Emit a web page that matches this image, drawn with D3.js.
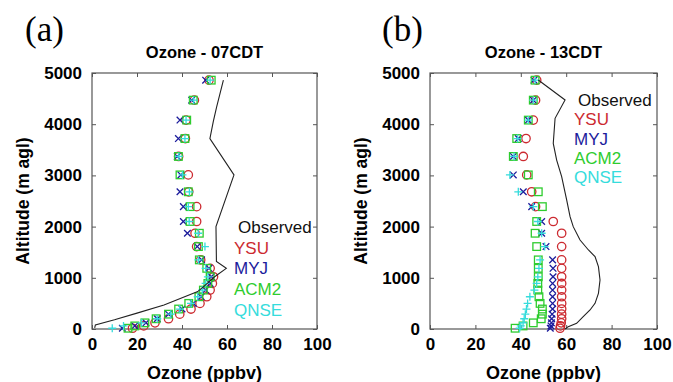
<!DOCTYPE html>
<html>
<head>
<meta charset="utf-8">
<script src="https://cdn.jsdelivr.net/npm/d3@7"></script>
<style>
body { margin: 0; background: #fff; }
text { font-family: "Liberation Sans", Arial, sans-serif; }
</style>
</head>
<body>
<div id="chart"></div>
<script>
// model levels (m agl) shared by both panels
var levels = [4860, 4470, 4080, 3720, 3370, 3010, 2680, 2390, 2100, 1870, 1610, 1350,
              1185, 1020, 890, 760, 630, 500, 390, 290, 200, 120, 60, 15];

// panel (a) 07CDT
var ysuA  = [52, 45.5, 41.8, 41.5, 38.5, 42.8, 43, 46.5, 46.5, 45.8, 46.5, 48.3, 52.5, 54, 53.5, 52.5, 51, 48, 44, 39, 34, 28, 23, 18];
var myjA  = [50.5, 44.3, 39.1, 38.4, 37.9, 39.5, 39.1, 40.6, 40.6, 42.4, 46.8, 48.7, 52, 53, 52.5, 50.5, 48.5, 45, 40, 34, 29, 24, 19, 13.5];
var acm2A = [53, 45, 42.1, 41.3, 38.4, 39.1, 42.8, 43.6, 43.6, 47.7, 47.3, 47.7, 51, 52.5, 51.5, 49.5, 47.5, 43, 38.5, 34, 28.5, 23.5, 19, 16];
var qnseA = [52.5, 45.2, 41.8, 41.3, 38.6, 40.2, 43.3, 42.8, 43.2, 47.2, 50.2, 47.3, 50.5, 51.5, 50.5, 49, 47, 44, 39, 35, 29, 22, 14, 9];
var obsAltA   = [20, 80, 180, 310, 470, 730, 900, 1020, 1185, 1320, 2000, 3010, 3720, 4050, 4340, 4860];
var obsOzoneA = [1.2, 1.5, 10, 20, 32, 47, 51.5, 54.5, 59.7, 55.3, 55.1, 63.1, 52.4, 53.9, 55.4, 58.4];

// panel (b) 13CDT
var ysuB  = [47, 46.5, 45.5, 42.3, 41.1, 42.6, 44.8, 46.5, 54.3, 58, 58, 58, 58, 58, 58, 58, 58, 58, 58, 58, 58, 57.8, 57.5, 57.3];
var myjB  = [45.8, 45.5, 43.3, 38.9, 36.7, 36.7, 41.1, 44.8, 49.2, 49.2, 51.1, 54, 54.2, 54.2, 54, 54, 54, 54, 54, 53.8, 53.6, 53.5, 53.3, 53];
var acm2B = [46.3, 45.5, 43.3, 38.2, 36.7, 43.3, 47.7, 49.5, 47, 46.3, 47, 47.7, 47.7, 47.7, 47.5, 47.5, 48, 48.5, 49.5, 49.5, 49, 45.5, 41, 37.5];
var qnseB = [46.3, 45.5, 43.3, 38.6, 37, 35.2, 38.9, 45.5, 47.5, 49.2, 50.5, 48.5, 48, 47.5, 47, 46, 44, 43, 42.5, 42, 41.5, 41, 40, 39.5];
var obsAltB   = [0, 46, 111, 241, 371, 501, 697, 957, 1217, 1413, 1543, 1738, 1999, 2194, 2520, 2975, 3300, 3626, 4115, 4473, 4863];
var obsOzoneB = [59.5, 60.9, 64.6, 67.5, 70.5, 72.7, 74.2, 74.9, 74.2, 72.7, 69.8, 66.1, 63.1, 61.7, 60.2, 58.0, 55.8, 54.3, 55.1, 59.5, 47.7];

var xTicks = [0, 20, 40, 60, 80, 100];
var yTicks = [0, 1000, 2000, 3000, 4000, 5000];
var legendNames = ["Observed", "YSU", "MYJ", "ACM2", "QNSE"];
var colors = {Observed: "#111", YSU: "#cc2a30", MYJ: "#1c1c9c", ACM2: "#2ecc2e", QNSE: "#36dcdc"};

var svg = d3.select("#chart").append("svg")
    .attr("width", 673)
    .attr("height", 382);

svg.append("rect").attr("width", 673).attr("height", 382).attr("fill", "#fff");

function drawPanel(p) {
    var x = d3.scaleLinear().domain([0, 100]).range([p.left, p.right]);
    var y = d3.scaleLinear().domain([0, 5000]).range([329, 73]);
    var g = svg.append("g");

    // panel letter
    g.append("text")
        .attr("x", p.letterX)
        .attr("y", 41)
        .style("font-family", "'Liberation Serif', 'Times New Roman', serif")
        .style("font-size", "35px")
        .text(p.letter);

    // title
    g.append("text")
        .attr("x", (p.left + p.right) / 2)
        .attr("y", 58)
        .attr("text-anchor", "middle")
        .style("font-size", "16.5px")
        .style("font-weight", "bold")
        .text(p.title);

    // axes with inward ticks, MATLAB style box
    g.append("g")
        .attr("transform", "translate(0,329)")
        .call(d3.axisBottom(x).tickValues(xTicks).tickSizeInner(-4).tickSizeOuter(0).tickPadding(9))
        .call(a => a.select(".domain").remove())
        .selectAll("text")
        .style("font-size", "17px").style("font-weight", "bold").attr("fill", "#000");
    g.append("g")
        .attr("transform", "translate(0,73)")
        .call(d3.axisTop(x).tickValues(xTicks).tickSizeInner(-4).tickSizeOuter(0).tickFormat(""))
        .call(a => a.select(".domain").remove());
    g.append("g")
        .attr("transform", "translate(" + p.left + ",0)")
        .call(d3.axisLeft(y).tickValues(yTicks).tickFormat(d3.format("d")).tickSizeInner(-4).tickSizeOuter(0).tickPadding(10))
        .call(a => a.select(".domain").remove())
        .selectAll("text")
        .style("font-size", "17px").style("font-weight", "bold").attr("fill", "#000");
    g.append("g")
        .attr("transform", "translate(" + p.right + ",0)")
        .call(d3.axisRight(y).tickValues(yTicks).tickSizeInner(-4).tickSizeOuter(0).tickFormat(""))
        .call(a => a.select(".domain").remove());
    g.selectAll(".tick line").attr("stroke", "#555");

    g.append("rect")
        .attr("x", p.left).attr("y", 73)
        .attr("width", p.right - p.left).attr("height", 256)
        .attr("fill", "none").attr("stroke", "#555").attr("stroke-width", 1.2);

    // axis labels
    g.append("text")
        .attr("x", (p.left + p.right) / 2)
        .attr("y", 379)
        .attr("text-anchor", "middle")
        .style("font-size", "18px").style("font-weight", "bold")
        .text("Ozone (ppbv)");
    g.append("text")
        .attr("transform", "translate(" + (p.left - 63) + ",201) rotate(-90)")
        .attr("text-anchor", "middle")
        .style("font-size", "17.5px").style("font-weight", "bold")
        .text("Altitude (m agl)");

    // YSU circles
    g.selectAll(".ysu").data(levels).enter().append("circle")
        .attr("cx", (d, i) => x(p.ysu[i]))
        .attr("cy", d => y(d))
        .attr("r", 4.2)
        .attr("fill", "none").attr("stroke", colors.YSU).attr("stroke-width", 1.3);

    // MYJ crosses
    var s = 3.3;
    g.selectAll(".myj").data(levels).enter().append("path")
        .attr("d", (d, i) => {
            var cx = x(p.myj[i]), cy = y(d);
            return "M" + (cx - s) + "," + (cy - s) + "L" + (cx + s) + "," + (cy + s) +
                   "M" + (cx - s) + "," + (cy + s) + "L" + (cx + s) + "," + (cy - s);
        })
        .attr("fill", "none").attr("stroke", colors.MYJ).attr("stroke-width", 1.3);

    // ACM2 squares
    g.selectAll(".acm2").data(levels).enter().append("rect")
        .attr("x", (d, i) => x(p.acm2[i]) - 3.8)
        .attr("y", d => y(d) - 3.8)
        .attr("width", 7.6).attr("height", 7.6)
        .attr("fill", "none").attr("stroke", colors.ACM2).attr("stroke-width", 1.3);

    // QNSE plus
    var q = 4;
    g.selectAll(".qnse").data(levels).enter().append("path")
        .attr("d", (d, i) => {
            var cx = x(p.qnse[i]), cy = y(d);
            return "M" + (cx - q) + "," + cy + "L" + (cx + q) + "," + cy +
                   "M" + cx + "," + (cy - q) + "L" + cx + "," + (cy + q);
        })
        .attr("fill", "none").attr("stroke", colors.QNSE).attr("stroke-width", 1.3);

    // observed profile
    var line = d3.line()
        .x((d, i) => x(p.obsOzone[i]))
        .y(d => y(d));
    g.append("path")
        .datum(p.obsAlt)
        .attr("d", line)
        .attr("fill", "none").attr("stroke", "#222").attr("stroke-width", 1.1);

    // legend
    g.selectAll(".leg").data(legendNames).enter().append("text")
        .attr("x", (d, i) => i === 0 ? p.legX : p.legX - 4)
        .attr("y", (d, i) => p.legY + i * p.legGap)
        .style("font-size", "17px")
        .attr("fill", d => colors[d])
        .text(d => d);
}

drawPanel({
    left: 92, right: 317, letter: "(a)", letterX: 25, title: "Ozone - 07CDT",
    ysu: ysuA, myj: myjA, acm2: acm2A, qnse: qnseA,
    obsAlt: obsAltA, obsOzone: obsOzoneA, legX: 238, legY: 233, legGap: 20.7
});
drawPanel({
    left: 430, right: 657, letter: "(b)", letterX: 382, title: "Ozone - 13CDT",
    ysu: ysuB, myj: myjB, acm2: acm2B, qnse: qnseB,
    obsAlt: obsAltB, obsOzone: obsOzoneB, legX: 578, legY: 106, legGap: 19.3
});
</script>
</body>
</html>
